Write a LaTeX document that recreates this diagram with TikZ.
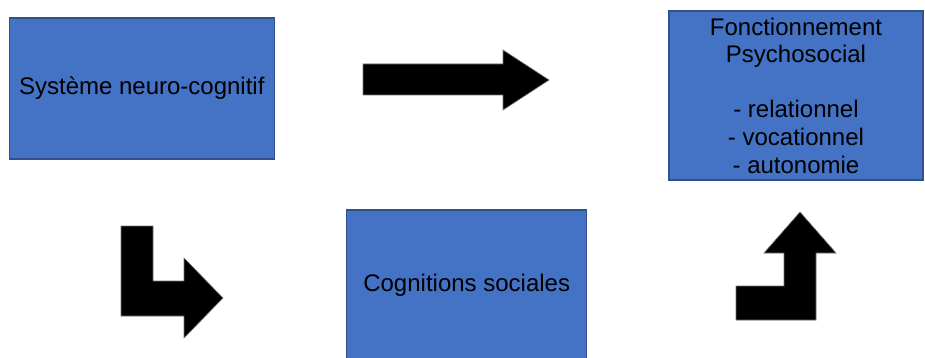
\documentclass[tikz,border=0pt]{standalone}
\usepackage{fontspec}
\setmainfont{Liberation Sans}
\usetikzlibrary{positioning}

\definecolor{boxblue}{HTML}{4472C4}
\definecolor{boxedge}{HTML}{2F528F}

\tikzset{
    bluebox/.style={draw=boxedge, fill=boxblue, line width=1.5pt, align=center,
        inner sep=0pt, font=\fontsize{24}{27.6}\selectfont},
    blockarrow/.style={fill=black, draw=black!55, line width=0.6pt}
}

\begin{document}
\begin{tikzpicture}[x=1pt, y=-1pt, on grid]
            \useasboundingbox (0,0) rectangle (925,358);

            \node[bluebox, minimum width=265pt, minimum height=141pt] (neuro) at (141.8,88.4) {Système neuro-cognitif};
            \node[bluebox, minimum width=240pt, minimum height=150pt, below right=196.6pt and 324.9pt of neuro] (cogsoc) {Cognitions sociales};
            \node[bluebox, minimum width=254pt, minimum height=169pt, above right=189.5pt and 329.3pt of cogsoc] (fonct) {Fonctionnement\\Psychosocial\\[27.6pt]- relationnel\\- vocationnel\\- autonomie};

            % block arrows
            \draw[blockarrow] (363,64) -- (503,64) -- (503,50) -- (549,80) -- (503,110) -- (503,95) -- (363,95) -- cycle;
            \draw[blockarrow] (121,226) -- (153,226) -- (153,281) -- (184,281) -- (184,258) -- (223,298) -- (184,338) -- (184,316) -- (121,316) -- cycle;
            \draw[blockarrow] (736,286) -- (784,286) -- (784,253) -- (764,253) -- (800,212) -- (836,253) -- (816,253) -- (816,320) -- (736,320) -- cycle;
        \end{tikzpicture}
\end{document}
